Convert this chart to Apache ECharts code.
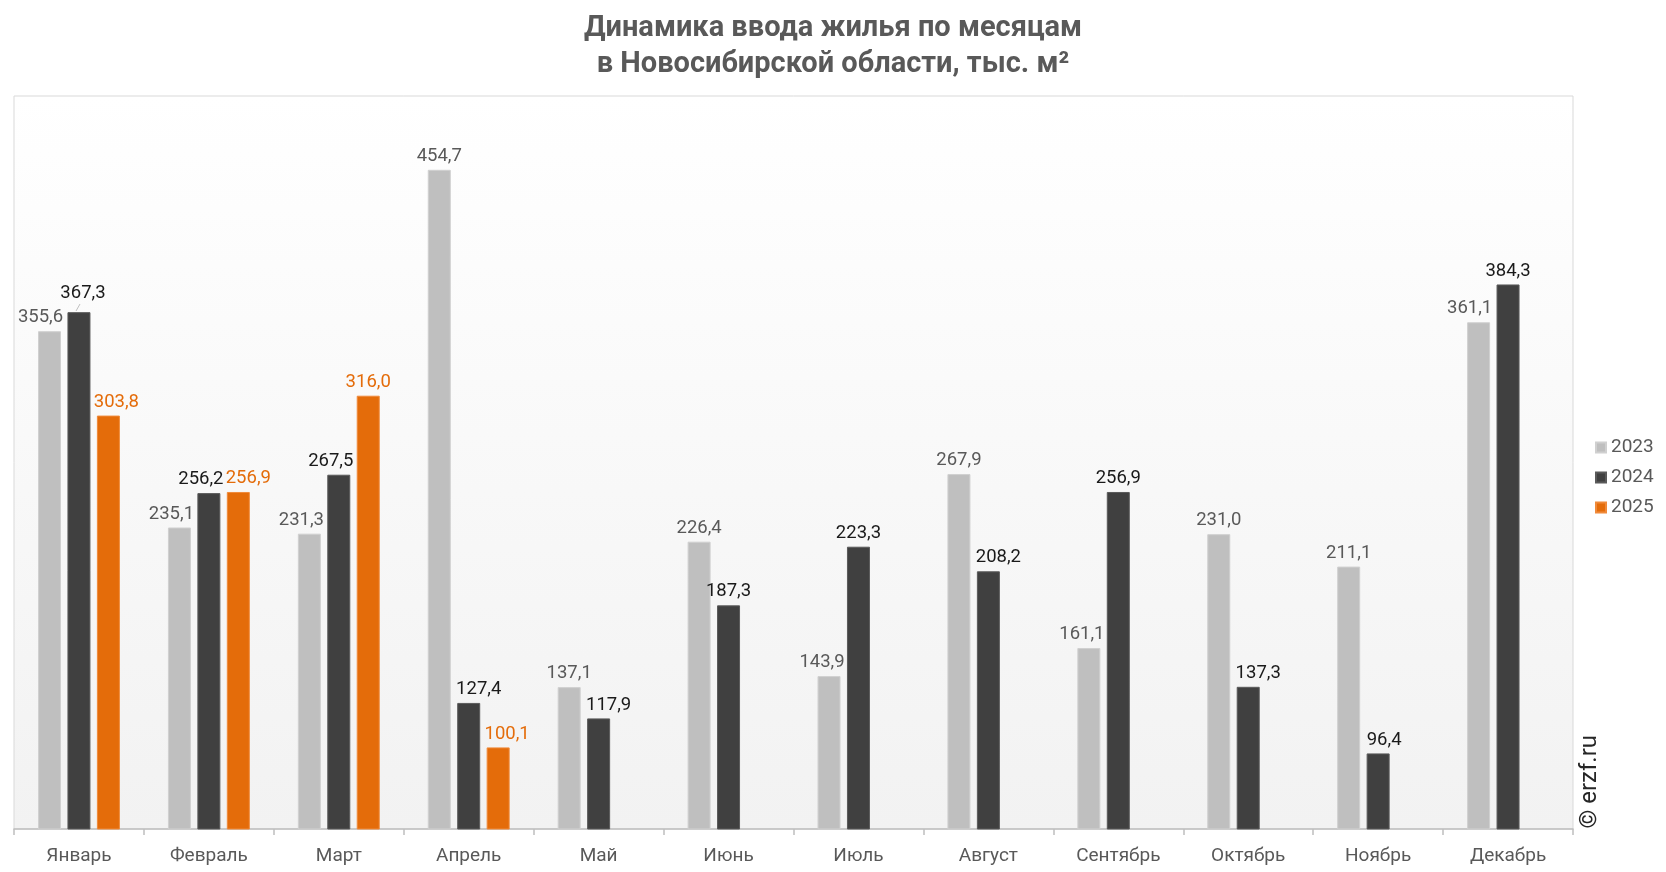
<!DOCTYPE html>
<html style='height: 100%'>
<head>
    <meta charset='utf-8'>
</head>
<body style='height: 100%; margin: 0; background: #fff'>
    <div id='container' style='width: 1666px; height: 872px'></div>
    <script src="https://cdn.jsdelivr.net/npm/echarts@6/dist/echarts.min.js"></script>
    <script type="text/javascript">
var months = ['Январь', 'Февраль', 'Март', 'Апрель', 'Май', 'Июнь', 'Июль', 'Август', 'Сентябрь', 'Октябрь', 'Ноябрь', 'Декабрь'];
var years = ['2023', '2024', '2025'];
var v2023 = [355.6, 235.1, 231.3, 454.7, 137.1, 226.4, 143.9, 267.9, 161.1, 231.0, 211.1, 361.1];
var v2024 = [367.3, 256.2, 267.5, 127.4, 117.9, 187.3, 223.3, 208.2, 256.9, 137.3, 96.4, 384.3];
var v2025 = [303.8, 256.9, 316.0, 100.1, null, null, null, null, null, null, null, null];

var font = 'Roboto';
var colors = ['#BFBFBF', '#404040', '#E46C0A'];
var borders = ['#D0D0D0', '#5A5A5A', '#F08A3A'];
var labelColors = ['#595959', '#1a1a1a', '#E46C0A'];
// labels pushed sideways so they don't sit on the neighbour bar (series -> month -> [dx, dy])
var nudge = [
    {0: [-9, 0], 1: [-8, 0], 2: [-8, 0], 6: [-7, 0], 8: [-7, 0], 11: [-9, 0]},
    {0: [4, -5], 1: [-8, 0], 2: [-8, 0], 3: [10, 0], 4: [10, 0], 7: [10, 0], 9: [10, 0], 10: [6, 0]},
    {0: [8, 0], 1: [10, 0], 3: [9, 0]}
];

function fmt(v) {
    return v.toFixed(1).replace('.', ',');
}

function makeSeries(idx, values) {
    return {
        name: years[idx],
        type: 'bar',
        barWidth: 23,
        barGap: '28%',
        clip: true,
        itemStyle: {color: colors[idx], borderColor: borders[idx], borderWidth: 1},
        label: {
            show: true,
            position: 'top',
            distance: 4,
            fontFamily: font,
            fontSize: 18.5,
            color: labelColors[idx],
            formatter: function (p) { return p.value == null ? '' : fmt(p.value); }
        },
        data: values.map(function (v, i) {
            var d = {value: v};
            if (nudge[idx][i] !== undefined) d.label = {offset: nudge[idx][i]};
            return d;
        })
    };
}

var dom = document.getElementById("container");
var myChart = echarts.init(dom);
var option = {
    backgroundColor: '#ffffff',
    animation: false,
    textStyle: {fontFamily: font},
    title: {
        text: 'Динамика ввода жилья по месяцам\nв Новосибирской области, тыс. м²',
        left: 'center',
        top: 6,
        textStyle: {
            fontFamily: font,
            fontSize: 29,
            fontWeight: 'bold',
            color: '#595959',
            lineHeight: 36
        }
    },
    legend: {
        data: years,
        orient: 'vertical',
        left: 1595,
        top: 438,
        padding: 0,
        icon: 'rect',
        itemWidth: 10,
        itemHeight: 10,
        itemGap: 11,
        textStyle: {fontFamily: font, fontSize: 19, color: '#595959'}
    },
    grid: {
        left: 14,
        right: 93,
        top: 96,
        bottom: 43,
        show: true,
        borderColor: '#D9D9D9',
        borderWidth: 1,
        backgroundColor: {
            type: 'linear', x: 0, y: 0, x2: 0, y2: 1,
            colorStops: [{offset: 0, color: '#FFFFFF'}, {offset: 1, color: '#F2F2F2'}]
        }
    },
    xAxis: {
        type: 'category',
        data: months,
        axisLine: {onZero: false, lineStyle: {color: '#BFBFBF', width: 1.5}},
        axisTick: {show: true, length: 6, lineStyle: {color: '#BFBFBF', width: 1.5}},
        axisLabel: {fontFamily: font, fontSize: 19, color: '#595959', margin: 18}
    },
    yAxis: {
        type: 'value',
        min: 50,
        max: 500,
        show: false,
        splitLine: {show: false}
    },
    graphic: [{
        type: 'text',
        left: 1578,
        top: 735,
        rotation: Math.PI / 2,
        style: {
            text: '© erzf.ru',
            fontFamily: font,
            fontSize: 24,
            fill: '#262626'
        }
    }, {
        // short leader line from the raised 2024 January label to its bar
        type: 'line',
        shape: {x1: 80, y1: 304, x2: 76, y2: 311},
        style: {stroke: '#BFBFBF', lineWidth: 1}
    }],
    series: [
        makeSeries(0, v2023),
        makeSeries(1, v2024),
        makeSeries(2, v2025)
    ]
};
myChart.setOption(option, true);
    </script>
</body>
</html>
